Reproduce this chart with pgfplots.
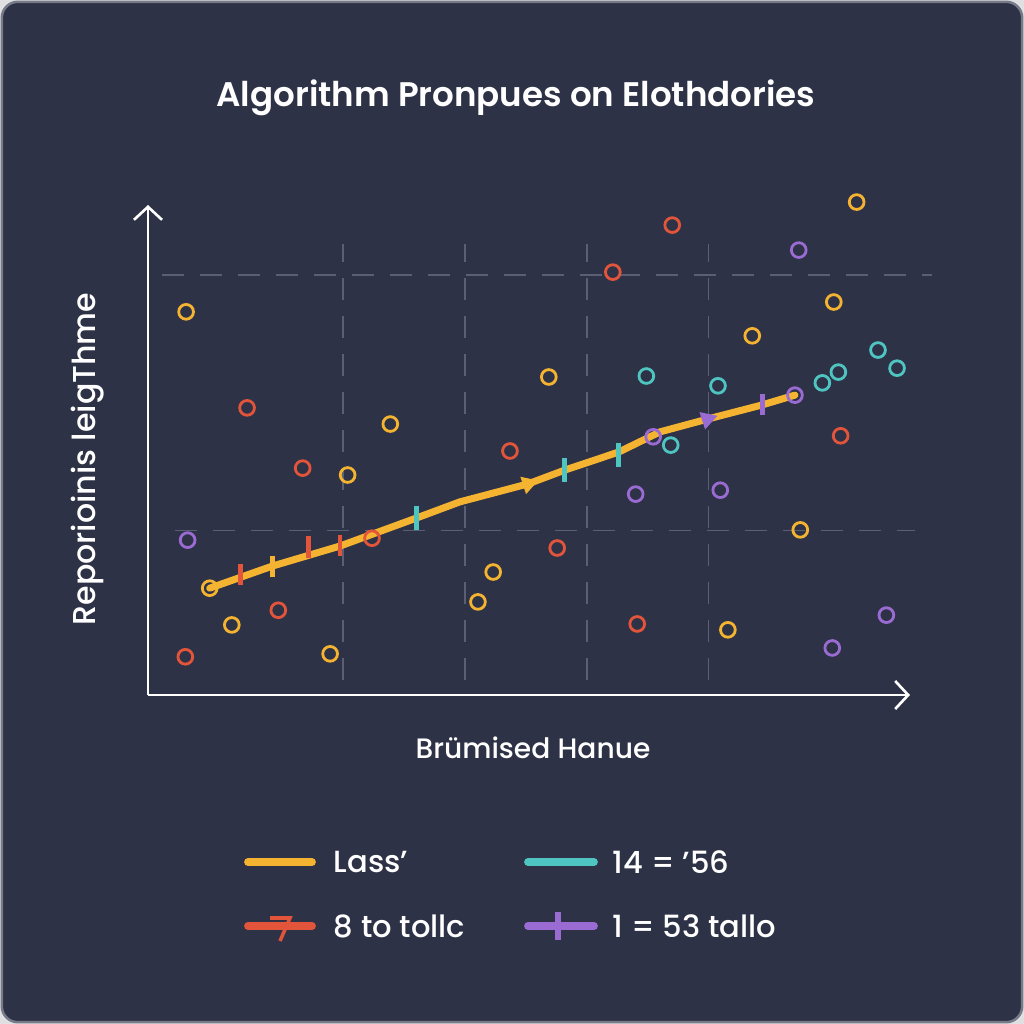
\documentclass[border=0pt]{standalone}
\usepackage{pgfplots}
\pgfplotsset{compat=1.18}
\usepackage{fontspec}
\setmainfont{Poppins}
\newfontfamily\medfont{Poppins Medium}
\newfontfamily\semifont{Poppins SemiBold}
\usetikzlibrary{arrows.meta}
\definecolor{bg}{HTML}{2E3246}
\definecolor{cyel}{HTML}{F4B331}
\definecolor{cred}{HTML}{E2553A}
\definecolor{cteal}{HTML}{4EC5C1}
\definecolor{cpur}{HTML}{9A6BD3}
\definecolor{cgrid}{HTML}{5B5F74}
\begin{document}
\begin{tikzpicture}
\fill[white!85!bg] (-14.8mm,-32.9mm) rectangle (87.6mm,69.5mm);
\fill[bg, draw=white!35!bg, line width=0.25mm, rounded corners=1.6mm] (-14.62mm,-32.72mm) rectangle (87.42mm,69.32mm);
\begin{axis}[
  at={(0,0)}, anchor=south west, scale only axis,
  width=76.2mm, height=49mm,
  xmin=0, xmax=100, ymin=0, ymax=100,
  hide axis, clip=false,
]
% grid
\draw[cgrid, line width=0.35pt, dash pattern=on 2.2mm off 1.6mm] (axis cs:25.6,3) -- (axis cs:25.6,92);
\draw[cgrid, line width=0.35pt, dash pattern=on 2.2mm off 1.6mm] (axis cs:41.6,3) -- (axis cs:41.6,92);
\draw[cgrid, line width=0.35pt, dash pattern=on 2.2mm off 1.6mm] (axis cs:57.6,3) -- (axis cs:57.6,92);
\draw[cgrid, line width=0.35pt, dash pattern=on 2.2mm off 1.6mm] (axis cs:73.6,3) -- (axis cs:73.6,92);
\draw[cgrid, line width=0.35pt, dash pattern=on 2.2mm off 1.6mm] (axis cs:1.8,85.7) -- (axis cs:102.9,85.7);
\draw[cgrid, line width=0.35pt, dash pattern=on 2.2mm off 1.6mm] (axis cs:3.5,33.5) -- (axis cs:100.7,33.5);
% axes
\draw[white, line width=0.75pt, -{Straight Barb[length=1.3mm, width=2.8mm]}] (axis cs:0,0) -- (axis cs:100,0);
\draw[white, line width=0.75pt, -{Straight Barb[length=1.3mm, width=2.8mm]}] (axis cs:0,0) -- (axis cs:0,100);

% main trend line
\addplot[cyel, line width=2pt, line cap=round, line join=round] coordinates {
(8.1,21.8) (16.3,26.3) (25.2,30.4) (35.2,36.1) (40.9,39.4) (49.9,43.1)
(54.7,45.9) (61.8,49.6) (67.2,53.7) (73.4,56.3) (80.6,59.2) (84.9,61.2)};
\addplot[only marks, cyel, mark=triangle*, mark size=2.6pt, mark options={rotate=-72}] coordinates {(49.9,43.1)};
\addplot[only marks, cpur, mark=triangle*, mark size=2.6pt, mark options={rotate=-72}] coordinates {(73.4,56.3)};

% yellow points
\addplot[only marks, cyel, mark=o, mark size=2.1pt, mark options={line width=0.8pt}] coordinates {
(5.0,78.2) (31.8,55.3) (26.2,44.9) (52.6,64.9) (93.0,100.6) (90.0,80.2) (79.3,73.3)
(85.6,33.7) (45.3,25.1) (43.3,19.0) (11.0,14.3) (23.9,8.4) (76.1,13.3) (8.1,21.8)};
\addplot[only marks, cyel, mark=|, mark size=3pt, mark options={line width=1.4pt}] coordinates {(16.3,26.3)};
% red points
\addplot[only marks, cred, mark=o, mark size=2.1pt, mark options={line width=0.8pt}] coordinates {
(68.8,95.9) (61.0,86.3) (13.0,58.6) (20.3,46.3) (47.5,49.8) (53.7,30.0) (17.1,17.3)
(4.9,7.8) (64.2,14.5) (90.9,52.9) (29.4,32.0)};
\addplot[only marks, cred, mark=|, mark size=3pt, mark options={line width=1.4pt}] coordinates {
(12.1,24.5) (21.1,30.2) (25.2,30.6)};
% teal points
\addplot[only marks, cteal, mark=o, mark size=2.1pt, mark options={line width=0.8pt}] coordinates {
(65.4,65.1) (74.8,63.1) (68.6,51.0) (88.5,63.7) (90.6,65.9) (95.8,70.4) (98.3,66.7)};
\addplot[only marks, cteal, mark=|, mark size=3.4pt, mark options={line width=1.4pt}] coordinates {
(35.2,36.1) (54.7,45.9) (61.8,49.0)};
% purple points
\addplot[only marks, cpur, mark=o, mark size=2.1pt, mark options={line width=0.8pt}] coordinates {
(85.4,90.8) (5.2,31.6) (66.3,52.7) (64.0,41.0) (75.1,41.8) (84.9,61.2) (96.9,16.3) (89.8,9.6)};
\addplot[only marks, cpur, mark=|, mark size=3pt, mark options={line width=1.4pt}] coordinates {(80.6,59.2)};
\end{axis}

% texts
\node[white, font=\fontsize{9.7pt}{11pt}\semifont] at (36.8mm,59.7mm) {Algorithm Pronpues on Elothdories};
\node[white, rotate=90, font=\fontsize{9pt}{11pt}\medfont] at (-6.0mm,23.6mm) {Reporioinis leigThme};
\node[white, font=\fontsize{8pt}{10pt}\medfont] at (38.5mm,-5.3mm) {Brümised Hanue};

% legend
\draw[cyel, line width=2.2pt, line cap=round] (10.0mm,-16.7mm) -- (16.4mm,-16.7mm);
\node[white, anchor=west, inner sep=0pt, font=\fontsize{8.7pt}{10pt}\medfont] at (18.5mm,-16.7mm) {Lass’};
\draw[cteal, line width=2.2pt, line cap=round] (38.0mm,-16.7mm) -- (44.6mm,-16.7mm);
\node[white, anchor=west, inner sep=0pt, font=\fontsize{8.7pt}{10pt}\medfont] at (46.4mm,-16.7mm) {14 = ’56};
\draw[cred, line width=2.2pt, line cap=round] (10.0mm,-23.1mm) -- (16.4mm,-23.1mm);
\draw[cred, line width=1pt] (12.2mm,-22.3mm) -- (14.2mm,-22.3mm) -- (13.2mm,-24.6mm);
\node[white, anchor=west, inner sep=0pt, font=\fontsize{8.7pt}{10pt}\medfont] at (18.5mm,-23.1mm) {8 to tollc};
\draw[cpur, line width=2.2pt, line cap=round] (38.0mm,-23.1mm) -- (44.6mm,-23.1mm);
\draw[cpur, line width=1.6pt] (41.0mm,-21.7mm) -- (41.0mm,-24.5mm);
\node[white, anchor=west, inner sep=0pt, font=\fontsize{8.7pt}{10pt}\medfont] at (46.4mm,-23.1mm) {1 = 53 tallo};
\end{tikzpicture}
\end{document}
